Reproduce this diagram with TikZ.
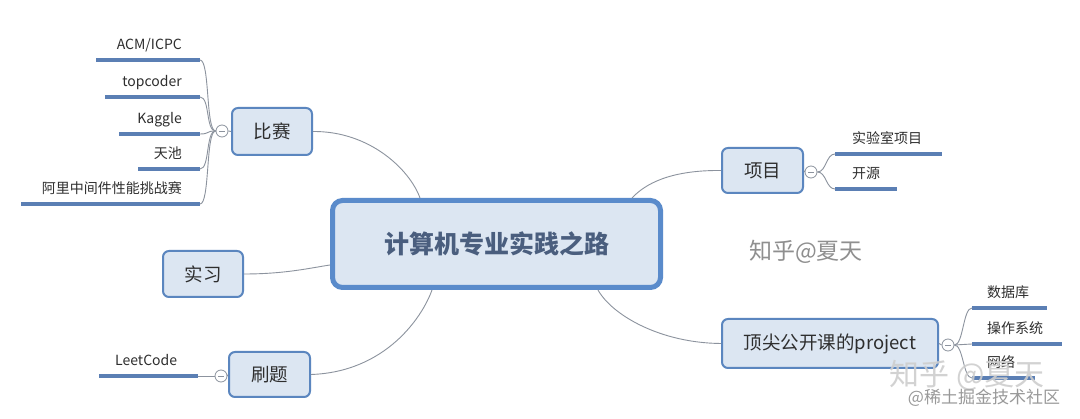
\documentclass[tikz,border=0pt]{standalone}
\usepackage{fontspec}
\setmainfont{Noto Sans CJK SC}
\definecolor{boxfill}{HTML}{DCE6F2}
\definecolor{boxdraw}{HTML}{5B86BF}
\definecolor{centerdraw}{HTML}{5A8BCB}
\definecolor{centertext}{HTML}{4A5E7E}
\definecolor{uline}{HTML}{5B7FB4}
\definecolor{conncol}{HTML}{8C939E}
\definecolor{txt}{HTML}{2E2E2E}
\definecolor{wm}{HTML}{8F8F8F}
\tikzset{
  topic/.style={draw=boxdraw, line width=2pt, fill=boxfill, rounded corners=6pt,
    font=\fontsize{18.5}{20}\selectfont, text=txt, inner sep=0pt},
  central/.style={draw=centerdraw, line width=5pt, fill=boxfill, rounded corners=10pt,
    font=\fontsize{25}{28}\selectfont\bfseries, text=centertext, inner sep=0pt,
    minimum width=328pt, minimum height=87pt},
  leaftext/.style={font=\fontsize{14}{16}\selectfont, text=txt, inner sep=0pt},
  uline/.style={draw=uline, line width=3.5pt},
  conn/.style={draw=conncol, line width=0.9pt},
  fold/.style={circle, draw=conncol, line width=0.8pt, fill=white, minimum size=12pt, inner sep=0pt,
    path picture={\draw[conncol, line width=0.8pt] ([xshift=-3pt]path picture bounding box.center) -- ([xshift=3pt]path picture bounding box.center);}},
}
\begin{document}
\begin{tikzpicture}[x=1pt,y=-1pt]
\useasboundingbox[fill=white] (0,0) rectangle (1080,419);

% central
\node[central] (c) at (496.5,244) {计算机专业实践之路};

% topics
\node[topic, minimum width=80pt, minimum height=47pt] (bs) at (272,131.5) {比赛};
\node[topic, minimum width=80pt, minimum height=46pt] (sx) at (203,274) {实习};
\node[topic, minimum width=81pt, minimum height=45pt] (st) at (269.5,374.5) {刷题};
\node[topic, minimum width=81pt, minimum height=45pt] (xm) at (762.5,170.5) {项目};
\node[topic, minimum width=216pt, minimum height=49pt] (dj) at (830,343.5) {顶尖公开课的project};

% main connectors
\draw[conn] (bs.east) .. controls (370,131) and (410,170) .. (c.north west -| 420,0);
\draw[conn] (sx.east) .. controls (285,274) and (310,268) .. (c.west |- 0,265);
\draw[conn] (st.east) .. controls (385,372) and (422,318) .. (c.south west -| 432,0);
\draw[conn] (xm.west) .. controls (670,170) and (645,184) .. (c.north east -| 632,0);
\draw[conn] (dj.west) .. controls (660,343) and (612,315) .. (c.south east -| 598,0);

% fold circles
\node[fold] (f1) at (222,131) {};
\node[fold] (f2) at (221,376) {};
\node[fold] (f3) at (811,172) {};
\node[fold] (f4) at (948,345) {};
\draw[conn] (bs.west) -- (f1.east);
\draw[conn] (st.west) -- (f2.east);
\draw[conn] (xm.east) -- (f3.west);
\draw[conn] (dj.east) -- (f4.west);

% left leaves of 比赛
\foreach \n/\xs/\y/\t in {acm/96/60/{ACM/ICPC}, tc/105/97/topcoder, kg/119/134/Kaggle, tch/138/169/天池, ali/21/204/阿里中间件性能挑战赛}{
  \coordinate (\n-e) at (200,\y);
  \coordinate (\n-w) at (\xs,\y);
  \node[leaftext, anchor=base east] (\n) at (182,\y-10) {\t};
  \draw[uline] (\n-w) -- (\n-e);
  \draw[conn] (f1.west) .. controls +(-10,0) and +(10,0) .. (\n-e);
}

% leetcode
\coordinate (lc-e) at (198,376);
\coordinate (lc-w) at (99,376);
\node[leaftext, anchor=base west] (lc) at (115,366) {LeetCode};
\draw[uline] (lc-w) -- (lc-e);
\draw[conn] (f2.west) -- (lc-e);

% right leaves of 项目
\foreach \n/\xe/\y/\t in {lab/942/154/实验室项目, os/897/189/开源}{
  \coordinate (\n-w) at (835,\y);
  \coordinate (\n-e) at (\xe,\y);
  \node[leaftext, anchor=base west] (\n) at (852,\y-10) {\t};
  \draw[uline] (\n-w) -- (\n-e);
  \draw[conn] (f3.east) .. controls +(9,0) and +(-9,0) .. (\n-w);
}

% right leaves of 顶尖公开课
\foreach \n/\xe/\y/\t in {db/1047/308/数据库, sys/1062/344/操作系统, net/1035/378/网络}{
  \coordinate (\n-w) at (972,\y);
  \coordinate (\n-e) at (\xe,\y);
  \node[leaftext, anchor=base west] (\n) at (987,\y-10) {\t};
  \draw[uline] (\n-w) -- (\n-e);
  \draw[conn] (f4.east) .. controls +(9,0) and +(-9,0) .. (\n-w);
}

% watermarks
\node[font=\fontsize{23}{26}\selectfont, text=wm, inner sep=0pt] (wm1) at (806,252) {知乎@夏天};
\node[font=\fontsize{30}{32}\selectfont, text=white, inner sep=0pt, opacity=0.85] (wm2) at (967,375) {知乎 @夏天};
\node[font=\fontsize{30}{32}\selectfont, text=gray, inner sep=0pt, opacity=0.35] at (wm2) {知乎 @夏天};
\node[font=\fontsize{17}{19}\selectfont, text=gray, inner sep=0pt, opacity=0.8] (wm3) at (984,398) {@稀土掘金技术社区};
\end{tikzpicture}
\end{document}
